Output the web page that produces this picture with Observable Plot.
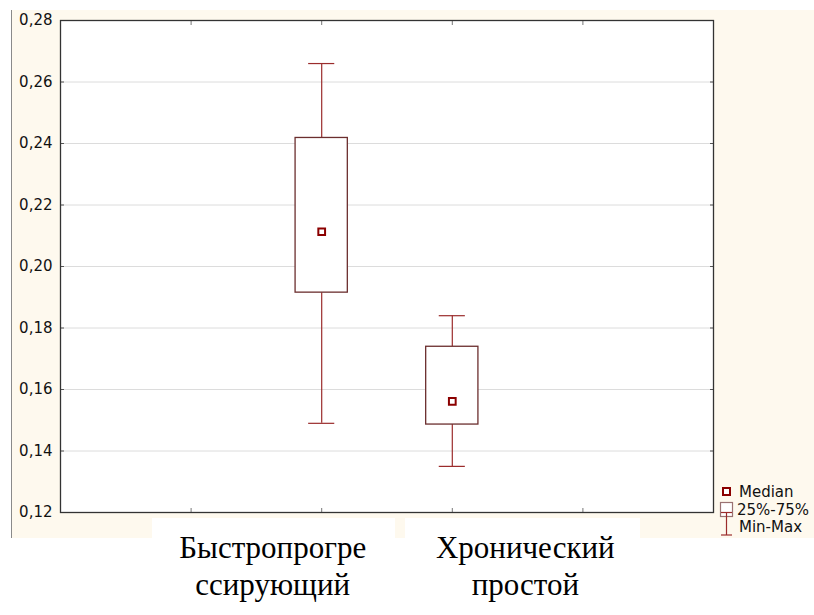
<!DOCTYPE html>
<html>
<head>
<meta charset="utf-8">
<script src="https://cdn.jsdelivr.net/npm/d3@7"></script>
<script src="https://cdn.jsdelivr.net/npm/@observablehq/plot@0.6"></script>
<style>
  body { margin: 0; background: #ffffff; }
  #wrap { position: relative; width: 814px; height: 615px; overflow: hidden; background: #ffffff; }
  #cream { position: absolute; left: 11px; top: 10px; width: 803px; height: 528px; background: #fef9ee; border-left: 1px solid #8a8a8a; }
  .patch { position: absolute; top: 518px; height: 30px; background: #ffffff; }
  #chart { position: absolute; left: 0; top: 0; }
  #legend { position: absolute; left: 0; top: 0; }
</style>
</head>
<body>
<div id="wrap">
  <div id="cream"></div>
  <div class="patch" style="left:152px;width:243px"></div>
  <div class="patch" style="left:405px;width:235px"></div>
  <div id="chart"></div>
  <svg id="legend" width="814" height="615" style="font-family:'DejaVu Sans',sans-serif;font-size:15px">
    <rect x="723" y="488" width="7" height="7" fill="#fff" stroke="#8b0000" stroke-width="2"></rect>
    <text x="739" y="497" fill="#111">Median</text>
    <rect x="720.5" y="502.5" width="12" height="14" fill="#fff" stroke="#9a7272" stroke-width="1.2"></rect>
    <text x="737" y="515" fill="#111">25%-75%</text>
    <line x1="726.5" x2="726.5" y1="512" y2="535" stroke="#9b2c2c" stroke-width="1.2"></line>
    <line x1="721" x2="732" y1="512.5" y2="512.5" stroke="#9b2c2c" stroke-width="1.2"></line>
    <line x1="721" x2="732" y1="535" y2="535" stroke="#9b2c2c" stroke-width="1.2"></line>
    <text x="739" y="532" fill="#111">Min-Max</text>
  </svg>
</div>
<script>
// ---- data ----
const categories = ["Быстропрогрессирующий", "Хронический простой"];
const labelLines = ["Быстропрогре\nссирующий", "Хронический\nпростой"];
const xPos = [2, 3];
const mins = [0.149, 0.135];
const q1 = [0.1915, 0.1486];
const medians = [0.2113, 0.1561];
const q3 = [0.2418, 0.1739];
const maxs = [0.266, 0.184];
const yTicks = [0.12, 0.14, 0.16, 0.18, 0.20, 0.22, 0.24, 0.26, 0.28];
const xTicks = [1, 2, 3, 4];

const data = categories.map((c, i) => ({
  cat: c, label: labelLines[i], x: xPos[i],
  min: mins[i], q1: q1[i], med: medians[i], q3: q3[i], max: maxs[i]
}));

const boxHalf = 0.2, capHalf = 0.1;
const boxStroke = "#6b2e2e", whiskerStroke = "#9b2c2c";
const fmt = d => d.toFixed(2).replace(".", ",");
const serif = "'Liberation Serif', 'Times New Roman', serif";

const chart = Plot.plot({
  width: 814, height: 615,
  marginLeft: 60, marginTop: 20, marginRight: 101, marginBottom: 103,
  style: { background: "transparent", fontFamily: "'DejaVu Sans', sans-serif", fontSize: "15px", color: "#111" },
  x: { domain: [0, 5], label: null },
  y: { domain: [0.12, 0.28], label: null },
  marks: [
    Plot.frame({ fill: "#ffffff" }),
    Plot.gridY(yTicks, { stroke: "#dcdcdc", strokeOpacity: 1 }),
    // whiskers
    Plot.ruleX(data, { x: "x", y1: "q3", y2: "max", stroke: whiskerStroke, strokeWidth: 1.2 }),
    Plot.ruleX(data, { x: "x", y1: "min", y2: "q1", stroke: whiskerStroke, strokeWidth: 1.2 }),
    Plot.ruleY(data, { y: "max", x1: d => d.x - capHalf, x2: d => d.x + capHalf, stroke: whiskerStroke, strokeWidth: 1.2 }),
    Plot.ruleY(data, { y: "min", x1: d => d.x - capHalf, x2: d => d.x + capHalf, stroke: whiskerStroke, strokeWidth: 1.2 }),
    // boxes
    Plot.rect(data, { x1: d => d.x - boxHalf, x2: d => d.x + boxHalf, y1: "q1", y2: "q3", fill: "#ffffff", stroke: boxStroke, strokeWidth: 1.3 }),
    // medians
    Plot.dot(data, { x: "x", y: "med", symbol: "square", r: 3.8, fill: "#ffffff", stroke: "#8b0000", strokeWidth: 2 }),
    // axes
    Plot.axisY(yTicks, { anchor: "left", tickSize: 0, tickPadding: 8, tickFormat: fmt, fontSize: 15, label: null }),
    Plot.axisY(yTicks, { anchor: "left", tickSize: -4, text: null, stroke: "#555", label: null }),
    Plot.axisY(yTicks, { anchor: "right", tickSize: -4, text: null, stroke: "#555", label: null }),
    Plot.axisX(xTicks, { anchor: "bottom", tickSize: -4, text: null, stroke: "#777", label: null }),
    Plot.axisX(xTicks, { anchor: "top", tickSize: -4, text: null, stroke: "#777", label: null }),
    Plot.frame({ stroke: "#333", strokeWidth: 1.3 }),
    // category labels
    Plot.text(data.slice(0, 1), { x: "x", text: "label", frameAnchor: "bottom", dy: 20, dx: -49, lineAnchor: "top", lineHeight: 1.17, fontFamily: serif, fontSize: 31, fill: "#000" }),
    Plot.text(data.slice(1, 2), { x: "x", text: "label", frameAnchor: "bottom", dy: 20, dx: 73, lineAnchor: "top", lineHeight: 1.17, fontFamily: serif, fontSize: 31, fill: "#000" })
  ]
});
document.getElementById("chart").appendChild(chart);
</script>
</body>
</html>
